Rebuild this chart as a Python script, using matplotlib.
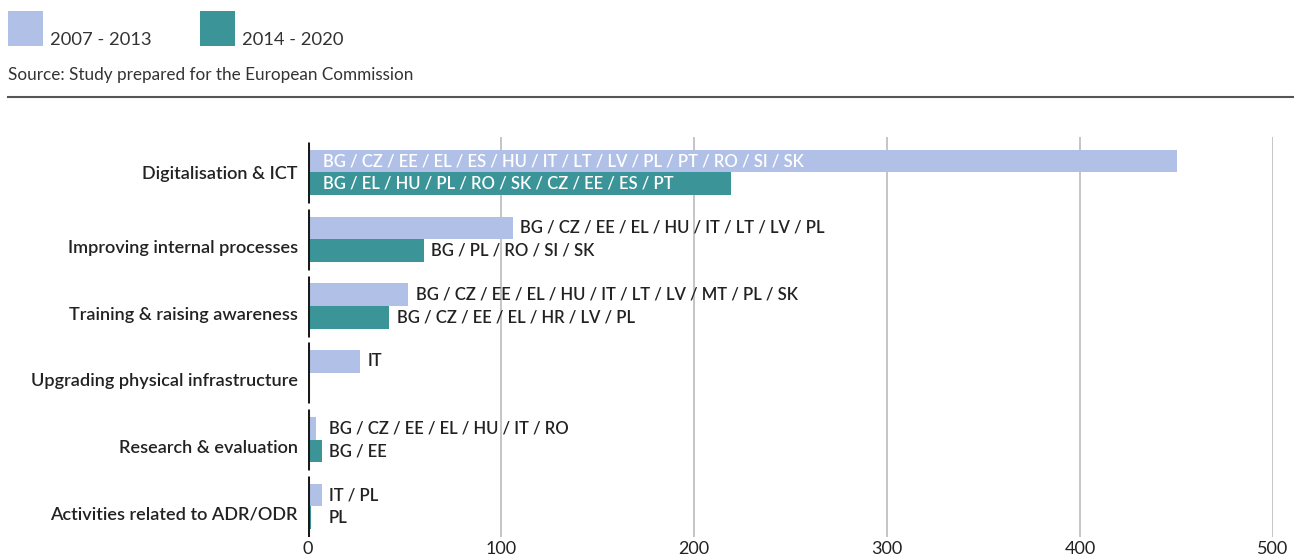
import matplotlib
matplotlib.use("Agg")
import matplotlib.pyplot as plt
import matplotlib.transforms as mtransforms
from matplotlib.patches import Rectangle
from matplotlib.lines import Line2D

# ---- data ----
categories = [
    "Digitalisation & ICT",
    "Improving internal processes",
    "Training & raising awareness",
    "Upgrading physical infrastructure",
    "Research & evaluation",
    "Activities related to ADR/ODR",
]
vals_0713 = [450, 106, 52, 27, 4, 7]
vals_1420 = [219, 60, 42, 0, 7, 1.5]
labels_0713 = [
    "BG / CZ / EE / EL / ES / HU / IT / LT / LV / PL / PT / RO / SI / SK",
    "BG / CZ / EE / EL / HU / IT / LT / LV / PL",
    "BG / CZ / EE / EL / HU / IT / LT / LV / MT / PL / SK",
    "IT",
    "BG / CZ / EE / EL / HU / IT / RO",
    "IT / PL",
]
labels_1420 = [
    "BG / EL / HU / PL / RO / SK / CZ / EE / ES / PT",
    "BG / PL / RO / SI / SK",
    "BG / CZ / EE / EL / HR / LV / PL",
    "",
    "BG / EE",
    "PL",
]
periods = ["2007 - 2013", "2014 - 2020"]
xticks = [0, 100, 200, 300, 400, 500]

BLUE = "#b0c0e6"
TEAL = "#3b9598"
DARK = "#222222"
FONT = ["Lato", "DejaVu Sans"]

plt.rcParams["font.family"] = FONT

W, H = 1294, 560
fig = plt.figure(figsize=(W / 100, H / 100), dpi=100)


def px(x, y):
    """pixel coords (top-left origin) -> figure fraction"""
    return x / W, 1 - y / H


# ---- legend / source / rule ----
for (x0, col, lab) in [(8, BLUE, periods[0]), (200, TEAL, periods[1])]:
    fx, fy = px(x0, 46)
    fig.patches.append(Rectangle((fx, fy), 35 / W, 35 / H, transform=fig.transFigure,
                                 facecolor=col, edgecolor="none"))
    tx, ty = px(x0 + 42, 45)
    fig.text(tx, ty, lab, fontsize=13.2, color="#333333", va="baseline", ha="left")

sx, sy = px(8, 75)
fig.text(sx, sy, "Source: Study prepared for the European Commission", fontsize=12.3,
         color="#333333", va="center", ha="left")
lx0, ly = px(8, 97)
fig.add_artist(Line2D([lx0, 1.0], [ly, ly], transform=fig.transFigure,
                      color="#555555", lw=1.5))

# ---- main axes ----
ax = fig.add_axes([308 / W, 1 - 537 / H, 965 / W, 400 / H])
n = len(categories)
ypos = list(range(n))
bh = 0.34

ax.barh([y - bh / 2 for y in ypos], vals_0713, height=bh, color=BLUE, zorder=2)
ax.barh([y + bh / 2 for y in ypos], vals_1420, height=bh, color=TEAL, zorder=2)

for y, v, lab, dy in ([(y, v, l, -bh / 2) for y, v, l in zip(ypos, vals_0713, labels_0713)] +
                      [(y, v, l, bh / 2) for y, v, l in zip(ypos, vals_1420, labels_1420)]):
    if not lab:
        continue
    if v > 200:
        ax.annotate(lab, (0, y + dy), xytext=(10.8, 0), textcoords="offset points",
                    va="center", ha="left", fontsize=12, fontweight="semibold",
                    color="white", zorder=5)
    else:
        ax.annotate(lab, (max(v, 7), y + dy), xytext=(5.4, 0), textcoords="offset points",
                    va="center", ha="left", fontsize=12, fontweight="semibold",
                    color=DARK, zorder=5)

# gridlines and broken left axis
for t in xticks[1:]:
    ax.axvline(t, color="#bbbbbb", lw=1.2, zorder=1)
ax.vlines([0] * n, [y - 0.457 for y in ypos], [y + 0.457 for y in ypos],
          color="#1a1a1a", lw=2.2, zorder=4)

ax.set_xlim(0, 500)
ax.set_ylim(n - 1 + 0.457, -0.53)
ax.set_xticks(xticks)
ax.set_xticklabels([str(t) for t in xticks], fontsize=13, color=DARK)
ax.set_yticks(ypos)
ax.set_yticklabels(categories, fontsize=13.1, fontweight="semibold", color=DARK)
ax.tick_params(axis="both", length=0)
ax.tick_params(axis="y", pad=7.2)
ax.tick_params(axis="x", pad=3)
for s in ax.spines.values():
    s.set_visible(False)

# y labels of all but the first row sit slightly below their bar pair
shift = mtransforms.ScaledTranslation(0, -7 / 100, fig.dpi_scale_trans)
for i, tl in enumerate(ax.get_yticklabels()):
    if i > 0:
        tl.set_transform(tl.get_transform() + shift)

fig.savefig("out.png", dpi=100)
